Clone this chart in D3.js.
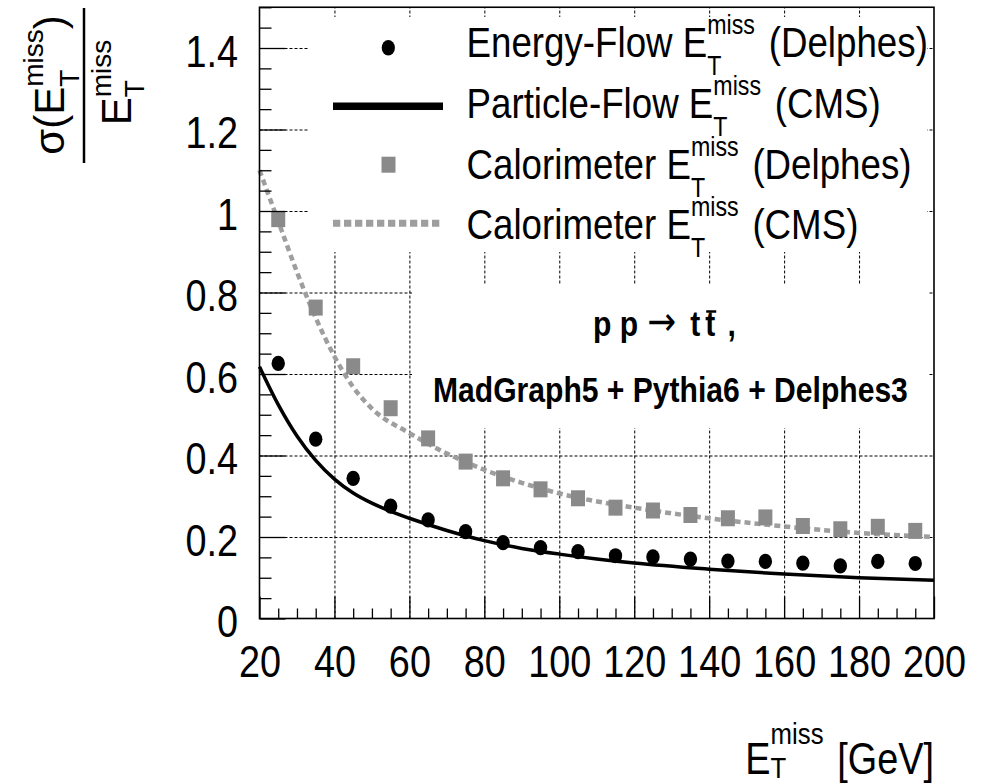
<!DOCTYPE html>
<html><head><meta charset="utf-8">
<script src="https://cdn.jsdelivr.net/npm/d3@7"></script>
<style>
body{margin:0;background:#fff;}
svg{display:block;font-family:"Liberation Sans",Arial,Helvetica,sans-serif;}
</style></head><body>
<script>
// ---------------- data ----------------
const binCenters = [25,35,45,55,65,75,85,95,105,115,125,135,145,155,165,175,185,195];
const energyFlowDelphes = [0.626,0.440,0.344,0.276,0.242,0.213,0.186,0.174,0.164,0.154,0.151,0.146,0.141,0.140,0.136,0.129,0.140,0.135];
const caloDelphes = [0.980,0.763,0.619,0.516,0.442,0.385,0.344,0.317,0.295,0.272,0.265,0.254,0.246,0.248,0.227,0.219,0.225,0.215];
const pfCmsX = [20,25,30,35,40,45,50,55,60,70,80,90,100,110,120,140,160,180,200];
const pfCmsY = [0.618,0.525,0.448,0.388,0.342,0.308,0.283,0.263,0.246,0.216,0.191,0.172,0.158,0.146,0.136,0.121,0.109,0.100,0.094];
const caloCmsX = [20,25,30,35,40,45,50,60,70,80,90,100,120,140,160,180,200];
const caloCmsY = [1.10,0.975,0.850,0.738,0.643,0.568,0.515,0.455,0.405,0.365,0.333,0.307,0.272,0.246,0.226,0.210,0.200];
const xTicks = [20,40,60,80,100,120,140,160,180,200];
const xTickLabels = ["20","40","60","80","100","120","140","160","180","200"];
const yTicks = [0,0.2,0.4,0.6,0.8,1.0,1.2,1.4];
const yTickLabels = ["0","0.2","0.4","0.6","0.8","1","1.2","1.4"];
const legendNames = ["Energy-Flow E","Particle-Flow E","Calorimeter E","Calorimeter E"];
const legendSources = ["(Delphes)","(CMS)","(Delphes)","(CMS)"];
const processLabel = ["p p","\u2192","t","t",","];
const generatorLabel = "MadGraph5 + Pythia6 + Delphes3";

// ---------------- layout ----------------
const W = 987, H = 784;
const SX = 0.86; // horizontal text compression of the reference
const GRAY = "#8a8a8a", LGRAY = "#9e9e9e";
const svg = d3.select("body").append("svg").attr("width", W).attr("height", H);

const x = d3.scaleLinear().domain([20, 200]).range([259.5, 934]);
const y = d3.scaleLinear().domain([0, 1.5]).range([618.5, 7.25]);
const x0 = x.range()[0], x1 = x.range()[1], y0 = y.range()[0], y1 = y.range()[1];

// rich text helper (sub/superscripts stacked like ROOT TLatex)
function rich(parent, px, py, parts, opt) {
  opt = opt || {};
  const outer = parent.append("g").attr("transform",
    `translate(${px},${py})` + (opt.rotate ? ` rotate(${opt.rotate})` : "") + ` scale(${opt.sx || 1},1)`);
  const inner = outer.append("g");
  let cx = 0;
  for (const p of parts) {
    if (p.gap) { cx += p.gap; continue; }
    if (p.sub !== undefined || p.sup !== undefined) {
      let w = 0;
      if (p.sub) { const t = inner.append("text").attr("x", cx).attr("y", p.subDy).attr("font-size", p.size).text(p.sub); w = Math.max(w, t.node().getComputedTextLength()); }
      if (p.sup) { const t = inner.append("text").attr("x", cx).attr("y", p.supDy).attr("font-size", p.size).text(p.sup); w = Math.max(w, t.node().getComputedTextLength()); }
      cx += w; continue;
    }
    const t = inner.append("text").attr("x", cx).attr("y", p.dy || 0).attr("font-size", p.size)
      .attr("font-weight", p.bold ? "bold" : null).attr("font-family", p.family || null).text(p.text);
    const w = t.node().getComputedTextLength();
    if (p.overline) inner.append("line").attr("x1", cx + 1).attr("x2", cx + w + 1)
      .attr("y1", -p.size * 0.7).attr("y2", -p.size * 0.7).attr("stroke", "#000").attr("stroke-width", 2.5);
    cx += w;
  }
  const shift = opt.anchor === "end" ? -cx : opt.anchor === "middle" ? -cx / 2 : 0;
  inner.attr("transform", `translate(${shift},0)`);
  return cx;
}

// ---------------- grid ----------------
const gridX = svg.append("g").attr("transform", `translate(0,${y0})`)
  .call(d3.axisBottom(x).tickValues(xTicks.slice(1, -1)).tickSize(-(y0 - y1)).tickFormat(""));
const gridY = svg.append("g").attr("transform", `translate(${x0},0)`)
  .call(d3.axisLeft(y).tickValues(yTicks.slice(1)).tickSize(-(x1 - x0)).tickFormat(""));
[gridX, gridY].forEach(g => {
  g.select(".domain").remove();
  g.selectAll("line").attr("stroke", "#000").attr("stroke-width", 1).attr("stroke-dasharray", "3,2");
});

// ---------------- data marks ----------------
const line = d3.line().x(d => x(d[0])).y(d => y(d[1])).curve(d3.curveMonotoneX);
svg.append("path").datum(caloCmsX.map((v, i) => [v, caloCmsY[i]]))
  .attr("d", line).attr("fill", "none").attr("stroke", LGRAY).attr("stroke-width", 4.5)
  .attr("stroke-dasharray", "6,4");
svg.append("path").datum(pfCmsX.map((v, i) => [v, pfCmsY[i]]))
  .attr("d", line).attr("fill", "none").attr("stroke", "#000").attr("stroke-width", 3.5);

svg.append("g").selectAll("rect").data(binCenters.map((v, i) => [v, caloDelphes[i]])).join("rect")
  .attr("x", d => x(d[0]) - 7).attr("y", d => y(d[1]) - 8).attr("width", 14).attr("height", 16)
  .attr("fill", GRAY);
svg.append("g").selectAll("ellipse").data(binCenters.map((v, i) => [v, energyFlowDelphes[i]])).join("ellipse")
  .attr("cx", d => x(d[0])).attr("cy", d => y(d[1])).attr("rx", 6.7).attr("ry", 7.6).attr("fill", "#000");

// ---------------- boxes (legend + text) ----------------
svg.append("rect").attr("x", 308).attr("y", 17).attr("width", 927 - 308).attr("height", 252 - 17).attr("fill", "#fff");
svg.append("rect").attr("x", 412).attr("y", 284).attr("width", 929 - 412).attr("height", 428 - 284).attr("fill", "#fff");

// ---------------- axes ----------------
const axX = svg.append("g").attr("transform", `translate(0,${y0})`);
axX.append("g").call(d3.axisBottom(x).tickValues(d3.range(25, 200, 5).filter(v => v % 20 !== 0)).tickSize(-10).tickFormat(""));
axX.append("g").call(d3.axisBottom(x).tickValues(xTicks).tickSize(-22).tickPadding(27.3)
  .tickFormat((d, i) => xTickLabels[i]));
const axY = svg.append("g").attr("transform", `translate(${x0},0)`);
axY.append("g").call(d3.axisLeft(y).tickValues(d3.range(0, 31).map(i => i * 0.05).filter(v => Math.round(v * 100) % 20 !== 0)).tickSize(-12).tickFormat(""));
axY.append("g").call(d3.axisLeft(y).tickValues(yTicks).tickSize(-26).tickPadding(21.5)
  .tickFormat((d, i) => yTickLabels[i]));
[axX, axY].forEach(g => {
  g.selectAll(".domain").remove();
  g.selectAll("line").attr("stroke", "#000").attr("stroke-width", 1.3);
  g.selectAll("text").attr("font-size", 44).attr("fill", "#000")
    .attr("font-family", '"Liberation Sans",Arial,Helvetica,sans-serif');
});
axX.selectAll("text").attr("transform", `scale(${SX},1)`);
axY.selectAll("text").attr("x", 0).attr("dy", 18).attr("transform", `translate(-21.5,0) scale(${SX},1)`);

// frame
svg.append("rect").attr("x", x0).attr("y", y1).attr("width", x1 - x0).attr("height", y0 - y1)
  .attr("fill", "none").attr("stroke", "#000").attr("stroke-width", 1.6);

// ---------------- legend ----------------
const legG = svg.append("g");
for (let i = 0; i < 4; i++) {
  const sy = 47.7 + i * 58.5, ty = 57.3 + i * 60.6;
  if (i === 0) legG.append("ellipse").attr("cx", 388.3).attr("cy", sy).attr("rx", 6.6).attr("ry", 7.8).attr("fill", "#000");
  if (i === 1) legG.append("line").attr("x1", 333).attr("x2", 443).attr("y1", sy).attr("y2", sy).attr("stroke", "#000").attr("stroke-width", 7.5);
  if (i === 2) legG.append("rect").attr("x", 388.5 - 7).attr("y", sy - 8).attr("width", 14).attr("height", 16).attr("fill", GRAY);
  if (i === 3) legG.append("line").attr("x1", 333).attr("x2", 443).attr("y1", sy).attr("y2", sy).attr("stroke", LGRAY).attr("stroke-width", 7).attr("stroke-dasharray", "7.3,3.7");
  rich(legG, 466.5, ty, [
    { text: legendNames[i], size: 42.7 },
    { sub: "T", sup: "miss", size: 27, subDy: 18, supDy: -23 },
    { gap: 16 },
    { text: legendSources[i], size: 42.7 }
  ], { sx: SX });
}

// ---------------- process text ----------------
rich(svg, 593, 336, [
  { text: processLabel[0], size: 35, bold: true }, { gap: 11 },
  { text: processLabel[1], size: 40, family: '"DejaVu Sans",sans-serif', dy: -1 }, { gap: 16 },
  { text: processLabel[2], size: 35, bold: true }, { gap: 6 },
  { text: processLabel[3], size: 35, bold: true, overline: true }, { gap: 14 },
  { text: processLabel[4], size: 35, bold: true }
], { sx: SX });
rich(svg, 433, 401.7, [{ text: generatorLabel, size: 35, bold: true }], { sx: SX });

// ---------------- axis titles ----------------
rich(svg, 934, 774, [
  { text: "E", size: 44 },
  { sub: "T", sup: "miss", size: 30, subDy: 4, supDy: -30 },
  { gap: 16 },
  { text: "[GeV]", size: 44 }
], { sx: SX, anchor: "end" });

rich(svg, 64, 85, [
  { text: "\u03C3(E", size: 42 },
  { sub: "T", sup: "miss", size: 28, subDy: 15, supDy: -21 },
  { text: ")", size: 42 }
], { rotate: -90, anchor: "middle" });
rich(svg, 131, 82.5, [
  { text: "E", size: 42 },
  { sub: "T", sup: "miss", size: 28, subDy: 13, supDy: -20 }
], { rotate: -90, anchor: "middle" });
svg.append("line").attr("x1", 84).attr("x2", 84).attr("y1", 8).attr("y2", 163)
  .attr("stroke", "#000").attr("stroke-width", 2.5);
</script>
</body></html>
